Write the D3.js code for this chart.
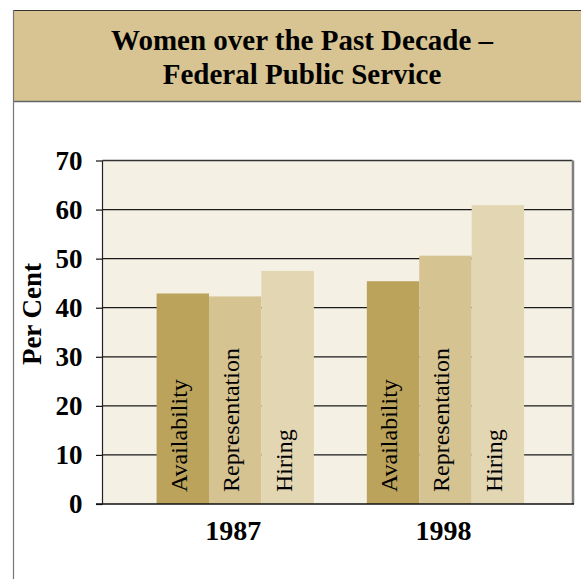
<!DOCTYPE html>
<html>
<head>
<meta charset="utf-8">
<script src="https://cdn.jsdelivr.net/npm/d3@7"></script>
<style>
  html, body { margin: 0; padding: 0; background: #ffffff; }
  svg { display: block; }
  text { font-family: "Liberation Serif", "Times New Roman", serif; fill: #000; }
</style>
</head>
<body>
<div id="chart"></div>
<script>
// ---- data ----
const titleLines = ["Women over the Past Decade \u2013", "Federal Public Service"];
const years = ["1987", "1998"];
const series = ["Availability", "Representation", "Hiring"];
const availability = [42.9, 45.4];
const representation = [42.3, 50.6];
const hiring = [47.5, 60.9];
const yTicks = [0, 10, 20, 30, 40, 50, 60, 70];
const yTitle = "Per Cent";

const valuesBySeries = { Availability: availability, Representation: representation, Hiring: hiring };
const colors = { Availability: "#bca35c", Representation: "#d6c392", Hiring: "#e3d6b3" };

const W = 581, H = 579;
const svg = d3.select("#chart").append("svg").attr("width", W).attr("height", H);
svg.append("rect").attr("width", W).attr("height", H).attr("fill", "#ffffff");

// title band
svg.append("rect").attr("x", 13.5).attr("y", 10.5).attr("width", W).attr("height", 91)
  .attr("fill", "#d7c492");
svg.append("line").attr("x1", 13).attr("x2", W).attr("y1", 10.5).attr("y2", 10.5)
  .attr("stroke", "#333").attr("stroke-width", 1);
svg.append("line").attr("x1", 13).attr("x2", W).attr("y1", 101.5).attr("y2", 101.5)
  .attr("stroke", "#666").attr("stroke-width", 1.5);
svg.append("line").attr("x1", 13.5).attr("x2", 13.5).attr("y1", 10).attr("y2", H)
  .attr("stroke", "#777").attr("stroke-width", 1.2);

svg.selectAll("text.title").data(titleLines).enter().append("text")
  .attr("class", "title")
  .attr("x", 302).attr("y", (d, i) => 49.5 + i * 34)
  .attr("text-anchor", "middle")
  .style("font-weight", "bold").style("font-size", "29px")
  .text(d => d);

// plot area
const px0 = 102.5, px1 = 572.5, py1 = 504;
const y = d3.scaleLinear().domain([0, 70]).range([py1, 160.5]);
const py0 = y(70);
const x0 = d3.scaleBand().domain(years).range([105.3, 575.4]).paddingInner(0.252).paddingOuter(0.244);
const x1 = d3.scaleBand().domain(series).range([0, x0.bandwidth()]).padding(0);

svg.append("rect").attr("x", px0).attr("y", py0).attr("width", px1 - px0).attr("height", py1 - py0)
  .attr("fill", "#f4f0e4");

// gridlines
svg.selectAll("line.grid").data(yTicks.filter(t => t > 0 && t < 70)).enter().append("line")
  .attr("class", "grid")
  .attr("x1", px0).attr("x2", px1)
  .attr("y1", d => y(d)).attr("y2", d => y(d))
  .attr("stroke", "#1a1a1a").attr("stroke-width", 1.2);

// bars
const groups = svg.selectAll("g.year").data(years).enter().append("g")
  .attr("class", "year")
  .attr("transform", d => `translate(${x0(d)},0)`);

groups.selectAll("rect").data((d, i) => series.map(s => ({ s, v: valuesBySeries[s][i] })))
  .enter().append("rect")
  .attr("x", d => x1(d.s))
  .attr("y", d => y(d.v))
  .attr("width", x1.bandwidth())
  .attr("height", d => y(0) - y(d.v))
  .attr("fill", d => colors[d.s]);

groups.selectAll("text.barlab").data(series).enter().append("text")
  .attr("class", "barlab")
  .attr("transform", d => `translate(${x1(d) + x1.bandwidth() / 2 + 4},${py1 - 12}) rotate(-90)`)
  .attr("text-anchor", "start")
  .style("font-size", "24px")
  .text(d => d);

// borders
svg.append("line").attr("x1", px0).attr("x2", px0).attr("y1", py0).attr("y2", py1)
  .attr("stroke", "#222").attr("stroke-width", 1.2);
svg.append("line").attr("x1", px0).attr("x2", px1).attr("y1", py0).attr("y2", py0)
  .attr("stroke", "#333").attr("stroke-width", 1.5);
svg.append("line").attr("x1", px1 + 0.5).attr("x2", px1 + 0.5).attr("y1", py0).attr("y2", py1)
  .attr("stroke", "#808080").attr("stroke-width", 2.5);
svg.append("line").attr("x1", 96).attr("x2", px1 + 1.5).attr("y1", py1).attr("y2", py1)
  .attr("stroke", "#111").attr("stroke-width", 1.5);

// y axis
const yAxis = d3.axisLeft(y).tickValues(yTicks).tickSize(6.5).tickPadding(13.5);
const ag = svg.append("g").attr("transform", `translate(${px0},0)`).call(yAxis);
ag.select(".domain").remove();
ag.selectAll(".tick line").attr("stroke", "#111").attr("stroke-width", 1.2);
ag.selectAll(".tick text")
  .style("font-family", '"Liberation Serif", "Times New Roman", serif')
  .style("font-weight", "bold").style("font-size", "27px").attr("fill", "#000");

svg.append("text")
  .attr("transform", "translate(40.5,314) rotate(-90)")
  .attr("text-anchor", "middle")
  .style("font-weight", "bold").style("font-size", "27px")
  .text(yTitle);

// x labels
svg.selectAll("text.year").data(years).enter().append("text")
  .attr("class", "year")
  .attr("x", d => x0(d) + x0.bandwidth() / 2 - 2)
  .attr("y", 540)
  .attr("text-anchor", "middle")
  .style("font-weight", "bold").style("font-size", "28px")
  .text(d => d);
</script>
</body>
</html>
